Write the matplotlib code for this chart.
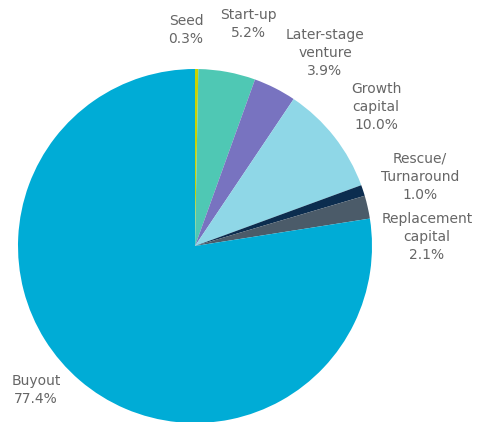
import matplotlib
matplotlib.use("Agg")
import matplotlib.pyplot as plt

W, H = 482, 422

labels = ["Seed", "Start-up", "Later-stage\nventure", "Growth\ncapital",
          "Rescue/\nTurnaround", "Replacement\ncapital", "Buyout"]
shares = [0.3, 5.2, 3.9, 10.0, 1.0, 2.1, 77.4]
colors = ["#c9d300", "#4fc8b4", "#7873c0", "#8fd7e7", "#0c2d4f", "#4b5b69", "#00acd6"]

# label centres in pixel coordinates (x, y from top)
label_pos = [(186, 30), (248, 24), (325, 53), (376, 107),
             (420, 177), (427, 237), (36, 390)]

fig = plt.figure(figsize=(W / 100, H / 100), dpi=100)
ax = fig.add_axes([0, 0, 1, 1])
ax.set_xlim(0, W)
ax.set_ylim(0, H)
ax.set_aspect("equal")
ax.axis("off")

ax.pie(shares, colors=colors, startangle=90, counterclock=False,
       center=(195, H - 246), radius=177, frame=True,
       wedgeprops=dict(linewidth=0))
ax.set_xlim(0, W)
ax.set_ylim(0, H)
ax.axis("off")

for lab, val, (x, y) in zip(labels, shares, label_pos):
    ax.text(x, H - y, "%s\n%.1f%%" % (lab, val), ha="center", va="center",
            fontsize=10, color="#666666", linespacing=1.4)

fig.savefig("out.png", dpi=100)
